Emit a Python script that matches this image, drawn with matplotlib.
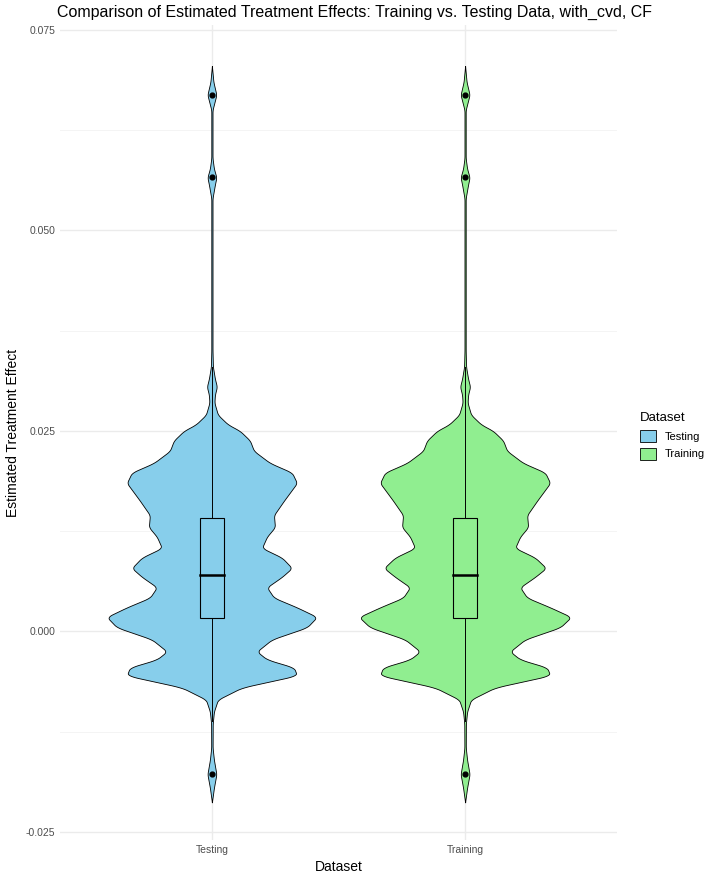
import numpy as np
import matplotlib.pyplot as plt
from matplotlib.patches import Patch

plt.rcParams['font.family'] = ['Liberation Sans', 'DejaVu Sans']

datasets = ["Testing", "Training"]
colors = ["#87CEEB", "#90EE90"]

# violin outline: effect value -> relative half-width
profile_y = [-0.0213, -0.0195, -0.0178, -0.016, -0.0145, -0.0115, -0.0100, -0.0085,
             -0.007, -0.0055, -0.0045, -0.0035, -0.0025, -0.001, 0.0005, 0.0018,
             0.003, 0.0042, 0.0055, 0.0068, 0.0079, 0.0092, 0.0104, 0.0118, 0.013,
             0.0145, 0.0163, 0.0185, 0.0198, 0.021, 0.0225, 0.0238, 0.025, 0.0258,
             0.027, 0.0285, 0.0295, 0.0305, 0.0315, 0.033, 0.035, 0.054, 0.0557,
             0.0566, 0.0577, 0.059, 0.065, 0.0669, 0.0685, 0.0705]
testing_width = [0, 2, 4.5, 2, 0.7, 0.8, 2, 6, 30, 85, 82, 55, 45, 60, 95, 105,
                 85, 62, 55, 70, 80, 70, 50, 55, 63, 62, 72, 85, 80, 58, 42, 38,
                 28, 16, 6, 2.5, 3, 5, 3, 1, 0.6, 0.6, 3, 4.5, 2, 0.6, 0.6, 4.5, 1.5, 0]
training_width = [0, 2, 4.5, 2, 0.7, 0.8, 2, 6, 30, 85, 82, 55, 45, 60, 95, 106,
                  85, 62, 55, 70, 81, 70, 50, 55, 63, 62, 72, 85, 80, 58, 42, 38,
                  28, 16, 6, 2.5, 3, 5, 3, 1, 0.6, 0.6, 3, 4.5, 2, 0.6, 0.6, 4.5, 1.5, 0]

# box plot stats
q1 = [0.0017, 0.0017]
median = [0.0070, 0.0070]
q3 = [0.0142, 0.0142]
whisker_lo = [-0.0112, -0.0112]
whisker_hi = [0.0330, 0.0330]
outliers = [[-0.0178, 0.0566, 0.0669], [-0.0178, 0.0566, 0.0669]]

fig = plt.figure(figsize=(7.16, 8.81), dpi=100)
ax = fig.add_axes([60 / 716, 41 / 881, 557 / 716, 815 / 881])
ax.set_xlim(0.4, 2.6)
ax.set_ylim(-0.026, 0.0756)

for s in ax.spines.values():
    s.set_visible(False)
for v in [-0.025, 0, 0.025, 0.05, 0.075]:
    ax.axhline(v, color="#ebebeb", lw=1.0, zorder=0)
for v in [-0.0125, 0.0125, 0.0375, 0.0625]:
    ax.axhline(v, color="#f2f2f2", lw=0.6, zorder=0)
for v in [1, 2]:
    ax.axvline(v, color="#ebebeb", lw=1.0, zorder=0)

yy = np.linspace(profile_y[0], profile_y[-1], 1500)
kernel = np.ones(11) / 11
max_half = 0.415
for i, (w, c) in enumerate(zip([testing_width, training_width], colors)):
    x = i + 1
    hw = np.interp(yy, profile_y, w)
    hw = np.convolve(hw, kernel, mode="same")
    hw = hw / 105 * max_half
    ax.fill_betweenx(yy, x - hw, x + hw, facecolor=c, edgecolor="black", lw=0.6, zorder=2)
    ax.plot([x, x], [whisker_lo[i], q1[i]], color="black", lw=0.7, zorder=3)
    ax.plot([x, x], [q3[i], whisker_hi[i]], color="black", lw=0.7, zorder=3)
    bw = 0.047
    ax.add_patch(plt.Rectangle((x - bw, q1[i]), 2 * bw, q3[i] - q1[i],
                               facecolor=c, edgecolor="black", lw=0.8, zorder=3))
    ax.plot([x - bw, x + bw], [median[i]] * 2, color="black", lw=1.8, zorder=4)
    ax.scatter([x] * len(outliers[i]), outliers[i], s=12, color="black", zorder=5)

ax.set_xticks([1, 2])
ax.set_xticklabels(datasets)
ax.set_yticks([-0.025, 0, 0.025, 0.05, 0.075])
ax.set_yticklabels(["-0.025", "0.000", "0.025", "0.050", "0.075"])
ax.tick_params(length=0, labelsize=7.5, colors="#4d4d4d")
ax.set_xlabel("Dataset", fontsize=10)
ax.set_ylabel("Estimated Treatment Effect", fontsize=10)
ax.set_title("Comparison of Estimated Treatment Effects: Training vs. Testing Data, with_cvd, CF",
             fontsize=11.5, loc="left", x=-0.005)

handles = [Patch(facecolor=c, edgecolor="black", lw=0.6, label=d) for d, c in zip(datasets, colors)]
leg = fig.legend(handles=handles, title="Dataset", loc="center left",
                 bbox_to_anchor=(630 / 716, 0.505), frameon=False, fontsize=8,
                 title_fontsize=9.5, handlelength=1.4, handleheight=1.3, alignment="left")

fig.savefig("out.png", dpi=100)
